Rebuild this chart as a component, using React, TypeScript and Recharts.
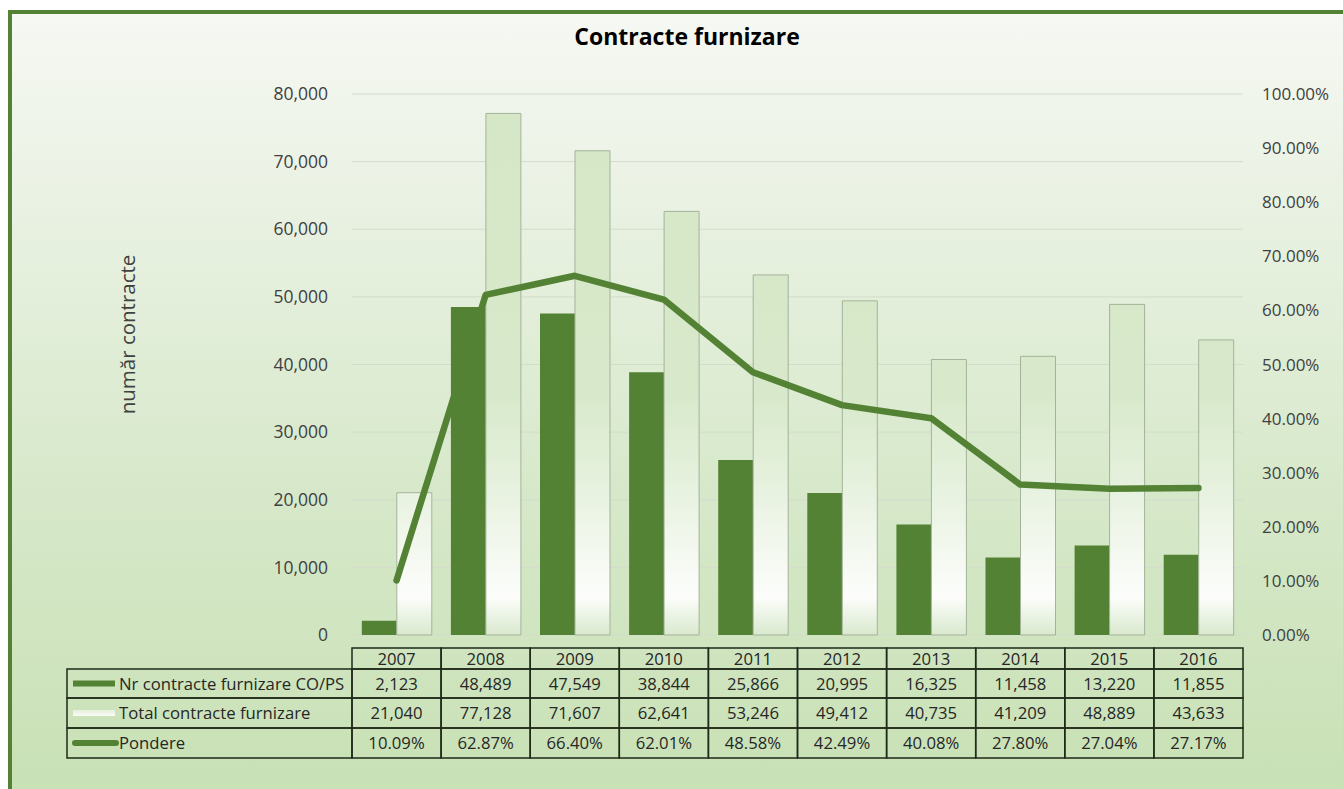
import React from 'react';
import {
  ComposedChart,
  Bar,
  Line,
  XAxis,
  YAxis,
  CartesianGrid,
} from 'recharts';

const years = ['2007', '2008', '2009', '2010', '2011', '2012', '2013', '2014', '2015', '2016'];
const nrContracte = [2123, 48489, 47549, 38844, 25866, 20995, 16325, 11458, 13220, 11855];
const totalContracte = [21040, 77128, 71607, 62641, 53246, 49412, 40735, 41209, 48889, 43633];
const pondere = [0.1009, 0.6287, 0.664, 0.6201, 0.4858, 0.4249, 0.4008, 0.278, 0.2704, 0.2717];

const leftTicks = [0, 10000, 20000, 30000, 40000, 50000, 60000, 70000, 80000];
const rightTicks = [0, 0.1, 0.2, 0.3, 0.4, 0.5, 0.6, 0.7, 0.8, 0.9, 1];

const seriesNames = ['Nr contracte furnizare CO/PS', 'Total contracte furnizare', 'Pondere'];

const data = years.map((year, i) => ({
  year,
  nr: nrContracte[i],
  total: totalContracte[i],
  pondere: pondere[i],
}));

const W = 1343;
const H = 789;
const LEFT_AXIS_W = 352;
const RIGHT_AXIS_W = 100;
const CELL_W = (W - LEFT_AXIS_W - RIGHT_AXIS_W) / years.length;
const GREEN = '#548235';
const FONT = '"Open Sans", "Noto Sans", sans-serif';
const LINE_COLOR = '#1f2a18';
const TABLE_FS = 16.7;

const fmtNum = (v: number) => v.toLocaleString('en-US');
const fmtPct = (v: number) => (v * 100).toFixed(2) + '%';

function TableTick(props: any) {
  const { x, y, index } = props;
  const left = x - CELL_W / 2;
  const rows = [
    { top: y + 13, h: 21, text: years[index] },
    { top: y + 34, h: 29, text: fmtNum(nrContracte[index]) },
    { top: y + 63, h: 30, text: fmtNum(totalContracte[index]) },
    { top: y + 93, h: 30, text: fmtPct(pondere[index]) },
  ];
  const legendLeft = 67;
  const legendW = left - legendLeft;
  return (
    <g>
      {rows.map((r, k) => (
        <g key={k}>
          <rect x={left} y={r.top} width={CELL_W} height={r.h} fill="none" stroke={LINE_COLOR} strokeWidth={1.5} />
          <text
            x={x}
            y={r.top + r.h / 2}
            dy="0.36em"
            textAnchor="middle"
            fontSize={TABLE_FS}
            fontFamily={FONT}
            fill="#262626"
          >
            {r.text}
          </text>
        </g>
      ))}
      {index === 0 &&
        rows.slice(1).map((r, k) => (
          <g key={'l' + k}>
            <rect x={legendLeft} y={r.top} width={legendW} height={r.h} fill="none" stroke={LINE_COLOR} strokeWidth={1.5} />
            {k === 0 && <rect x={73} y={r.top + r.h / 2 - 3} width={42} height={6} fill={GREEN} />}
            {k === 1 && <rect x={73} y={r.top + r.h / 2 - 3} width={42} height={6} fill="url(#legendLight)" />}
            {k === 2 && (
              <line x1={75} x2={116} y1={r.top + r.h / 2} y2={r.top + r.h / 2} stroke={GREEN} strokeWidth={6} strokeLinecap="round" />
            )}
            <text
              x={119}
              y={r.top + r.h / 2}
              dy="0.36em"
              fontSize={TABLE_FS}
              fontFamily={FONT}
              fill="#262626"
            >
              {seriesNames[k]}
            </text>
          </g>
        ))}
    </g>
  );
}

function YLabel(props: any) {
  const { viewBox } = props;
  const cx = 128;
  const cy = viewBox.y + viewBox.height / 2 - 30;
  return (
    <text
      x={cx}
      y={cy}
      transform={`rotate(-90 ${cx} ${cy})`}
      textAnchor="middle"
      dy="0.35em"
      fontSize={20.5}
      fontFamily={FONT}
      fill="#404040"
    >
      număr contracte
    </text>
  );
}

export default function App() {
  return (
    <div style={{ position: 'fixed', inset: 0, overflow: 'hidden', background: '#fff' }}>
      <div
        style={{
          position: 'absolute',
          left: 8,
          top: 10,
          width: 1400,
          height: 820,
          boxSizing: 'border-box',
          border: `4px solid ${GREEN}`,
          background: 'linear-gradient(180deg, #f6f8f3 0%, #e6f0de 30%, #d6e8c9 60%, #c7e0b3 100%)',
        }}
      />
      <div
        style={{
          position: 'absolute',
          left: 0,
          top: 21,
          width: 1374,
          textAlign: 'center',
          fontFamily: FONT,
          fontWeight: 700,
          fontSize: 23,
          lineHeight: '30px',
          color: '#000',
        }}
      >
        Contracte furnizare
      </div>
      <div style={{ position: 'absolute', left: 0, top: 0 }}>
        <ComposedChart
          width={W}
          height={H}
          data={data}
          margin={{ top: 94, right: 0, bottom: 0, left: 0 }}
          barCategoryGap="11%"
          barGap={0}
        >
          <defs>
            <linearGradient id="lightBar" x1="0" y1="94" x2="0" y2="635" gradientUnits="userSpaceOnUse">
              <stop offset="0" stopColor="#d5e7c6" />
              <stop offset="0.55" stopColor="#d7e9ca" />
              <stop offset="0.7" stopColor="#e4f0db" />
              <stop offset="0.84" stopColor="#f3f8ef" />
              <stop offset="0.93" stopColor="#fcfdfb" />
              <stop offset="1" stopColor="#d9e9cd" />
            </linearGradient>
            <linearGradient id="legendLight" x1="0" y1="0" x2="0" y2="1">
              <stop offset="0" stopColor="#e4efdb" />
              <stop offset="1" stopColor="#fafcf8" />
            </linearGradient>
          </defs>
          <CartesianGrid vertical={false} stroke="#d3dccb" yAxisId="left" />
          <XAxis
            dataKey="year"
            height={154}
            axisLine={false}
            tickLine={false}
            tickSize={0}
            tickMargin={0}
            interval={0}
            tick={<TableTick />}
          />
          <YAxis
            yAxisId="left"
            width={LEFT_AXIS_W}
            domain={[0, 80000]}
            ticks={leftTicks}
            tickFormatter={fmtNum}
            axisLine={false}
            tickLine={false}
            tickSize={0}
            tickMargin={24}
            tick={{ fontSize: 17.5, fontFamily: FONT, fill: '#404040' }}
            label={<YLabel />}
          />
          <YAxis
            yAxisId="right"
            orientation="right"
            width={RIGHT_AXIS_W}
            domain={[0, 1]}
            ticks={rightTicks}
            tickFormatter={fmtPct}
            axisLine={false}
            tickLine={false}
            tickSize={0}
            tickMargin={19}
            tick={{ fontSize: 17, fontFamily: FONT, fill: '#404040', textAnchor: 'start' }}
          />
          <Bar yAxisId="left" dataKey="nr" fill={GREEN} isAnimationActive={false} />
          <Bar
            yAxisId="left"
            dataKey="total"
            fill="url(#lightBar)"
            stroke="#a3b39a"
            strokeWidth={1}
            isAnimationActive={false}
          />
          <Line
            yAxisId="right"
            type="linear"
            dataKey="pondere"
            stroke={GREEN}
            strokeWidth={6.5}
            strokeLinecap="round"
            strokeLinejoin="round"
            dot={false}
            activeDot={false}
            isAnimationActive={false}
          />
        </ComposedChart>
      </div>
    </div>
  );
}
